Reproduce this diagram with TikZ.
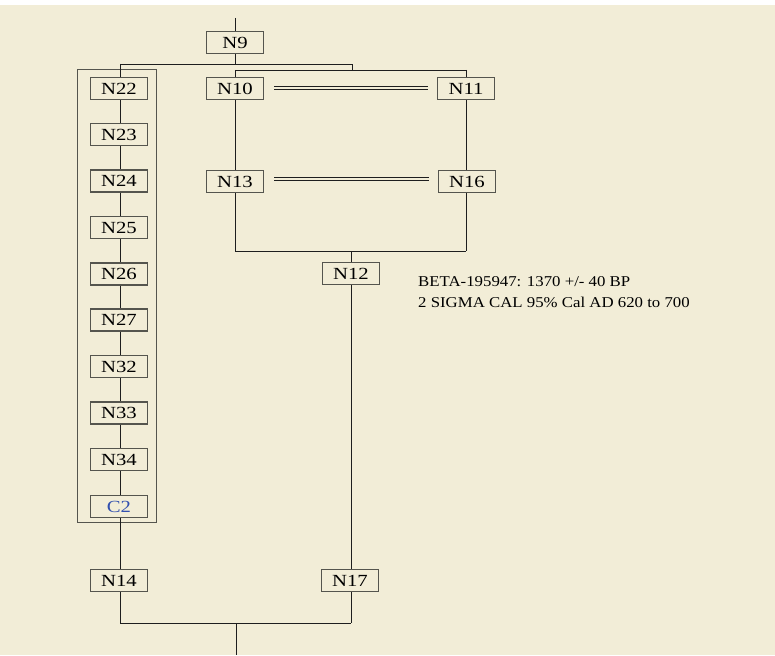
\documentclass[tikz,border=0pt]{standalone}
\usepackage{fontspec}
\setmainfont{Liberation Serif}
\newfontfamily\labelfont[FakeStretch=1.22]{Liberation Serif}
\newfontfamily\notefont[FakeStretch=1.12]{Liberation Serif}
\definecolor{bgcream}{RGB}{242,237,215}
\definecolor{boxedge}{RGB}{85,85,78}
\definecolor{wire}{RGB}{30,30,30}
\definecolor{cblue}{RGB}{50,80,175}
\begin{document}
\begin{tikzpicture}[x=1pt,y=-1pt,
  phase/.style={draw=boxedge,line width=1.1pt,minimum width=57pt,minimum height=22pt,inner sep=0pt,font=\labelfont\fontsize{17}{18}\selectfont,text=black},
  conn/.style={draw=wire,line width=0.8pt},
  note/.style={font=\notefont\fontsize{15}{17}\selectfont,inner sep=0pt,anchor=base west}
]
\useasboundingbox (0,0) rectangle (775,655);
\fill[white] (0,0) rectangle (775,655);
\fill[bgcream] (0,5) rectangle (775,655);

% outer group rectangle
\draw[draw=boxedge,line width=1pt] (77,70) rectangle (156,522);

% nodes
\node[phase] (N9)  at (235,42.5) {N9};
\node[phase] (N22) at (119,88.5) {N22};
\node[phase] (N23) at (119,134.5) {N23};
\node[phase] (N24) at (119,181) {N24};
\node[phase] (N25) at (119,227.5) {N25};
\node[phase] (N26) at (119,274) {N26};
\node[phase] (N27) at (119,320) {N27};
\node[phase] (N32) at (119,366.5) {N32};
\node[phase] (N33) at (119,413) {N33};
\node[phase] (N34) at (119,459.5) {N34};
\node[phase,text=cblue] (C2) at (119,506.5) {C2};
\node[phase] (N14) at (119,580.5) {N14};
\node[phase] (N10) at (235,88.5) {N10};
\node[phase] (N11) at (466,88.5) {N11};
\node[phase] (N13) at (235,181.5) {N13};
\node[phase] (N16) at (467,181.5) {N16};
\node[phase] (N12) at (351,273.5) {N12};
\node[phase] (N17) at (350,580.5) {N17};

\node[note] (t1) at (418,286) {BETA-195947: 1370 +/- 40 BP};
\node[note] (t2) at (418,307) {2 SIGMA CAL 95\% Cal AD 620 to 700};

% coordinates
\coordinate (top) at (235,18);
\coordinate (s1L) at (120,64);
\coordinate (s1M) at (235,64);
\coordinate (s1R) at (352,64);
\coordinate (s2M) at (352,70);
\coordinate (s2L) at (235,70);
\coordinate (s2R) at (466,70);
\coordinate (j1L) at (235,251);
\coordinate (j1M) at (351,251);
\coordinate (j1R) at (466,251);
\coordinate (j2L) at (120,623);
\coordinate (j2M) at (236,623);
\coordinate (j2R) at (351,623);
\coordinate (bot) at (236,655);

% connectors
\draw[conn] (top) -- (N9.north);
\draw[conn] (N9.south) -- (s1M);
\draw[conn] (s1L) -- (s1R) -- (s2M);
\draw[conn] (s1L) -- (s1L |- N22.north);
\draw[conn] (s2L) -- (s2R);
\draw[conn] (s2L) -- (N10.north);
\draw[conn] (s2R) -- (s2R |- N11.north);
\draw[conn] (N10.south) -- (N13.north);
\draw[conn] (s2R |- N11.south) -- (s2R |- N16.north);
\draw[conn] (N13.south) -- (j1L);
\draw[conn] (s2R |- N16.south) -- (j1R);
\draw[conn] (j1L) -- (j1R);
\draw[conn] (j1M) -- (j1M |- N12.north);
\draw[conn] (j1M |- N12.south) -- (j1M |- N17.north);
\foreach \a/\b in {N22/N23,N23/N24,N24/N25,N25/N26,N26/N27,N27/N32,N32/N33,N33/N34,N34/C2}
  \draw[conn] (s1L |- \a.south) -- (s1L |- \b.north);
\draw[conn] (s1L |- C2.south) -- (s1L |- N14.north);
\draw[conn] (s1L |- N14.south) -- (j2L);
\draw[conn] (j2R |- N17.south) -- (j2R);
\draw[conn] (j2L) -- (j2R);
\draw[conn] (j2M) -- (bot);

% double lines (contemporaneity)
\draw[conn] ([xshift=10pt,yshift=-1pt]N10.east) -- ([xshift=-9pt,yshift=-1pt]N11.west);
\draw[conn] ([xshift=10pt,yshift=2.4pt]N10.east) -- ([xshift=-9pt,yshift=2.4pt]N11.west);
\draw[conn] ([xshift=10pt,yshift=1.2pt]N13.east) -- ([xshift=-9pt,yshift=1.2pt]N16.west);
\draw[conn] ([xshift=10pt,yshift=4.5pt]N13.east) -- ([xshift=-9pt,yshift=4.5pt]N16.west);
\end{tikzpicture}
\end{document}
